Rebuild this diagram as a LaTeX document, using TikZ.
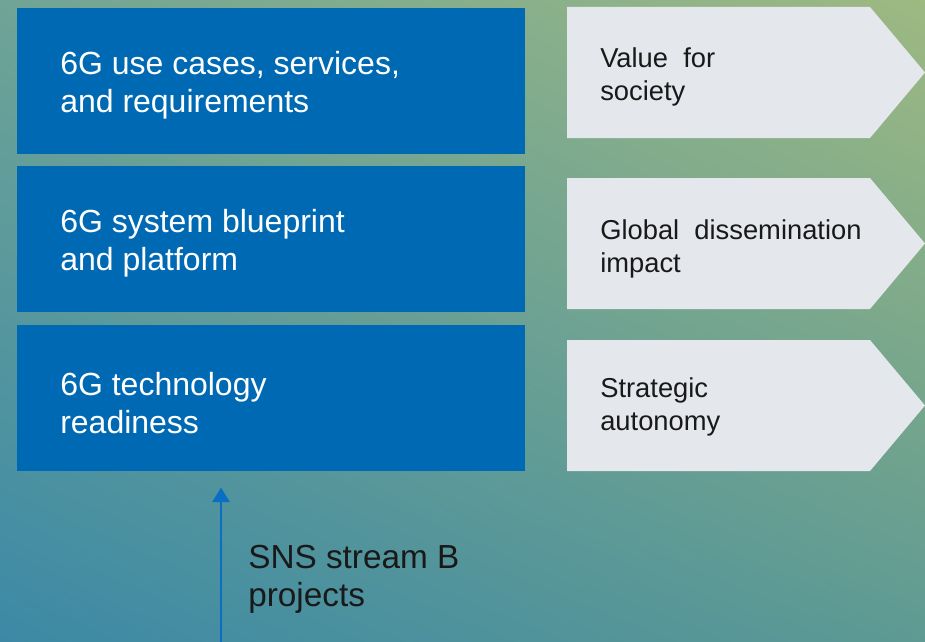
\documentclass[tikz,border=0pt]{standalone}
\usepackage{fontspec}
\setmainfont{Liberation Sans}
\usetikzlibrary{arrows.meta, shadings}
\definecolor{bgtl}{HTML}{6FA496}
\definecolor{bgtr}{HTML}{9EB982}
\definecolor{bgbl}{HTML}{3C89A6}
\definecolor{bgbr}{HTML}{5E9A93}
\definecolor{boxblue}{HTML}{0069B4}
\definecolor{chevgray}{HTML}{E4E7EC}
\definecolor{arrowblue}{HTML}{0A6FC2}
\tikzset{
  bluebox/.style={fill=boxblue, anchor=north west, inner sep=0pt,
    minimum width=381pt, minimum height=109pt},
  boxtext/.style={text=white, anchor=west, inner sep=0pt, xshift=32.25pt,
    yshift=-3.5pt, align=left, font=\fontsize{24}{28.5}\selectfont},
  chevtext/.style={anchor=west, inner sep=0pt, align=left, text=black!90,
    font=\fontsize{20.5}{25}\selectfont},
}
\begin{document}
\begin{tikzpicture}[x=0.75pt, y=-0.75pt, >=Triangle]
    \def\W{925}
    \def\H{642}
    % Background
    \useasboundingbox (0,0) rectangle (\W,\H);
    \shade[upper left=bgtl, upper right=bgtr, lower left=bgbl, lower right=bgbr]
        (0,0) rectangle (\W,\H);
    % Blue boxes
    \node[bluebox] (uses) at (17,8) {};
    \node[boxtext] (usestext) at (uses.west) {6G use cases, services,\\and requirements};
    \node[bluebox] (blueprint) at (17,166) {};
    \node[boxtext] (blueprinttext) at (blueprint.west) {6G system blueprint\\and platform};
    \node[bluebox] (tech) at (17,325) {};
    \node[boxtext] (techtext) at (tech.west) {6G technology\\readiness};
    % Chevrons
    \foreach \t in {7,178,340}
        \fill[chevgray] (567,\t) -- (870,\t) -- (925,\t+65.5) -- (870,\t+131)
            -- (567,\t+131) -- cycle;
    \node[chevtext] (value) at (600,77) {Value\ \ for\\society};
    \node[chevtext] (impact) at (600,249) {Global\ \ dissemination\\impact};
    \node[chevtext] (autonomy) at (600,407) {Strategic\\autonomy};
    % Stream B input
    \coordinate (src) at (221,\H);
    \draw[->, arrowblue, line width=1.6pt, shorten >=12.5pt,
        arrows={-{Triangle[length=11pt, width=13pt]}}] (src) -- (src |- tech.south);
    \node[anchor=west, inner sep=0pt, align=left, text=black!90,
        font=\fontsize{25}{28.5}\selectfont] (snsb) at (248,579) {SNS stream B\\projects};
\end{tikzpicture}
\end{document}
